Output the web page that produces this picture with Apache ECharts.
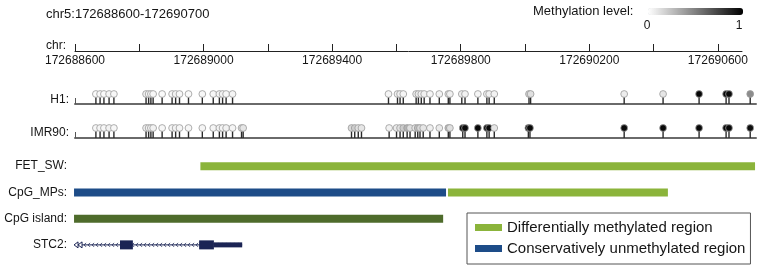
<!DOCTYPE html>
<html>
<head>
<meta charset="utf-8">
<script src="https://cdn.jsdelivr.net/npm/echarts@6/dist/echarts.min.js"></script>
<style>html,body{margin:0;padding:0;background:#fff;}#c{width:760px;height:268px;}</style>
</head>
<body>
<div id="c"></div>
<script>
// ---- data ----
const chrTicks = [172688600,172688800,172689000,172689200,172689400,172689600,172689800,172690000,172690200,172690400,172690600];
const chrLabels = [172688600,172689000,172689400,172689800,172690200,172690600];

const h1Pos = [172688665,172688678,172688690,172688706,172688721,
  172688821,172688829,172688836,172688843,172688871,
  172688902,172688913,172688925,172688953,172688996,
  172689030,172689049,172689059,172689070,172689090,
  172689575,172689603,172689611,172689621,
  172689661,172689668,172689677,172689686,172689704,172689733,
  172689761,172689766,172689803,172689813,172689853,172689881,172689888,172689904,
  172690012,172690017,172690308,172690429,172690541,172690625,172690634,172690700];
const h1Meth = [0.02,0.03,0.02,0.04,0.03,
  0.05,0.03,0.04,0.03,0.02,
  0.03,0.05,0.03,0.02,0.03,
  0.03,0.04,0.05,0.03,0.04,
  0.04,0.05,0.06,0.04,
  0.06,0.08,0.05,0.06,0.04,0.05,
  0.08,0.06,0.07,0.05,0.04,0.05,0.06,0.05,
  0.15,0.12,0.07,0.1,0.98,0.97,0.96,0.45];

const imrPos = [172688665,172688678,172688690,172688706,172688721,
  172688821,172688829,172688836,172688843,172688871,
  172688902,172688913,172688925,172688953,172688996,
  172689030,172689049,172689059,172689070,172689090,
  172689118,172689123,
  172689460,172689470,172689481,172689491,
  172689577,172689600,172689611,172689621,172689633,172689642,
  172689658,172689666,172689673,172689683,172689704,172689733,172689761,172689766,
  172689806,172689813,172689853,172689881,172689888,172689904,
  172690010,172690015,172690308,172690429,172690541,172690625,172690634,172690700];
const imrMeth = [0.03,0.04,0.03,0.05,0.03,
  0.06,0.05,0.04,0.05,0.03,
  0.04,0.05,0.04,0.03,0.04,
  0.04,0.05,0.04,0.05,0.04,
  0.12,0.1,
  0.15,0.2,0.12,0.1,
  0.05,0.08,0.12,0.2,0.3,0.12,
  0.1,0.25,0.15,0.1,0.06,0.08,0.25,0.12,
  0.97,0.96,0.97,0.96,0.97,0.1,
  0.96,0.97,0.96,0.97,0.97,0.96,0.97,0.95];

const regionTracks = ['FET_SW','CpG_MPs','CpG island','STC2'];
const dmrTrack = ['FET_SW','CpG_MPs'];
const dmrStart = [172688990,172689760];
const dmrEnd   = [172690715,172690444];
const curTrack = ['CpG_MPs'];
const curStart = [172688597];
const curEnd   = [172689754];
const islandTrack = ['CpG island'];
const islandStart = [172688597];
const islandEnd   = [172689745];

const geneKinds = ['intron','exon','exon','utr'];
const geneStart = [172688597,172688740,172688986,172689032];
const geneEnd   = [172689120,172688780,172689032,172689120];

// ---- build ----
const FONT = '"Liberation Sans", Arial, sans-serif';
const TXT = '#151515';
const GREEN = '#8bb43b', BLUE = '#1d4c88', DKGREEN = '#4e6b2b', NAVY = '#1b2454';
const xMin = 172688600, chrMax = 172690675, trackMax = 172690718;

function lolli(params, api) {
  const x = api.value(0);
  const p0 = api.coord([x, 0]);
  const p1 = api.coord([x, 1]);
  return {type:'group', children:[
    {type:'line', shape:{x1:p0[0], y1:p0[1], x2:p1[0], y2:p1[1]+2}, style:{stroke:'#2b2b2b', lineWidth:1.4}},
    {type:'circle', shape:{cx:p1[0], cy:p1[1], r:3.4}, style:{fill: api.visual('color'), stroke:'#9a9a9a', lineWidth:0.8}}
  ]};
}
function regionRender(color, h) {
  return function(params, api) {
    const s = api.coord([api.value(0), api.value(2)]);
    const e = api.coord([api.value(1), api.value(2)]);
    return {type:'rect', shape:{x:s[0], y:s[1]-h/2, width:e[0]-s[0], height:h}, style:{fill:color}};
  };
}
function geneRender(params, api) {
  const s = api.coord([api.value(0), api.value(2)]);
  const e = api.coord([api.value(1), api.value(2)]);
  const y = s[1];
  const kind = geneKinds[params.dataIndex];
  if (kind === 'intron') {
    const ch = [{type:'line', shape:{x1:s[0]+2, y1:y, x2:e[0], y2:y}, style:{stroke:NAVY, lineWidth:1}}];
    for (let x = s[0] + 10; x < e[0] - 3; x += 4) {
      ch.push({type:'polyline', shape:{points:[[x+2,y-2],[x,y],[x+2,y+2]]}, style:{stroke:NAVY, lineWidth:0.8, fill:null}});
    }
    ch.push({type:'polygon', shape:{points:[[s[0],y],[s[0]+4,y-3],[s[0]+4,y+3]]}, style:{stroke:NAVY, fill:'#fff', lineWidth:1}});
    ch.push({type:'polygon', shape:{points:[[s[0]+4,y],[s[0]+8,y-3],[s[0]+8,y+3]]}, style:{stroke:NAVY, fill:'#fff', lineWidth:1}});
    return {type:'group', children:ch};
  }
  const h = kind === 'exon' ? 9 : 5;
  return {type:'rect', shape:{x:s[0], y:y-h/2, width:e[0]-s[0], height:h}, style:{fill:NAVY}};
}

const option = {
  animation: false,
  backgroundColor: '#fff',
  textStyle: {fontFamily: FONT},
  grid: [
    {left:75, top:40, width:667, height:11},
    {left:75, top:94, width:681, height:10},
    {left:75, top:128, width:681, height:10},
    {left:75, top:153, width:681, height:105}
  ],
  xAxis: [
    {gridIndex:0, type:'value', min:xMin, max:chrMax,
      axisLine:{lineStyle:{color:'#222', width:1}},
      axisTick:{inside:true, length:7, customValues: chrTicks, lineStyle:{color:'#222', width:1}},
      axisLabel:{customValues: chrLabels, margin:4, fontSize:12, color:TXT, fontFamily:FONT, formatter: v => String(v)},
      splitLine:{show:false}},
    {gridIndex:1, type:'value', min:xMin, max:trackMax,
      axisLine:{lineStyle:{color:'#6a6a6a', width:2}},
      axisTick:{inside:true, length:6, customValues:[xMin], lineStyle:{color:'#555', width:1}},
      axisLabel:{show:false}, splitLine:{show:false}},
    {gridIndex:2, type:'value', min:xMin, max:trackMax,
      axisLine:{lineStyle:{color:'#6a6a6a', width:2}},
      axisTick:{inside:true, length:6, customValues:[xMin], lineStyle:{color:'#555', width:1}},
      axisLabel:{show:false}, splitLine:{show:false}},
    {gridIndex:3, type:'value', min:xMin, max:trackMax, show:false}
  ],
  yAxis: [
    {gridIndex:0, type:'value', min:0, max:1, axisLine:{show:false}, axisTick:{show:false}, splitLine:{show:false},
      axisLabel:{customValues:[0.45], formatter:()=> 'chr:', margin:9, fontSize:12, color:TXT, fontFamily:FONT}},
    {gridIndex:1, type:'value', min:0, max:1, axisLine:{show:false}, axisTick:{show:false}, splitLine:{show:false},
      axisLabel:{customValues:[0.4], formatter:()=> 'H1:', margin:6, fontSize:12, color:TXT, fontFamily:FONT}},
    {gridIndex:2, type:'value', min:0, max:1, axisLine:{show:false}, axisTick:{show:false}, splitLine:{show:false},
      axisLabel:{customValues:[0.5], formatter:()=> 'IMR90:', margin:6, fontSize:12, color:TXT, fontFamily:FONT}},
    {gridIndex:3, type:'category', data: regionTracks, inverse:true, axisLine:{show:false}, axisTick:{show:false}, splitLine:{show:false},
      axisLabel:{formatter: v => v + ':', margin:8, fontSize:12, color:TXT, fontFamily:FONT}}
  ],
  visualMap: {
    type:'continuous', min:0, max:1, dimension:1, seriesIndex:[0,1],
    orient:'horizontal', left:648, top:8, padding:0, itemWidth:7, itemHeight:95,
    calculable:false, text:null, showLabel:false,
    inRange:{color:['#ffffff','#000000']}
  },
  legend: {
    data:['Differentially methylated region','Conservatively unmethylated region'],
    orient:'vertical', left:467, top:213, padding:[7,5,8,8], itemGap:6,
    itemWidth:27, itemHeight:7, icon:'rect', selectedMode:false,
    borderColor:'#555', borderWidth:1,
    textStyle:{fontSize:15, color:TXT, fontFamily:FONT}
  },
  graphic: [
    {type:'text', left:46, top:8, style:{text:'chr5:172688600-172690700', font:'13px ' + FONT, fill:TXT}},
    {type:'text', left:533, top:5, style:{text:'Methylation level:', font:'13px ' + FONT, fill:TXT}},
    {type:'text', x:647, y:26, style:{text:'0', font:'12px ' + FONT, fill:TXT, textAlign:'center', textVerticalAlign:'middle'}},
    {type:'text', x:739, y:26, style:{text:'1', font:'12px ' + FONT, fill:TXT, textAlign:'center', textVerticalAlign:'middle'}}
  ],
  series: [
    {name:'H1', type:'custom', xAxisIndex:1, yAxisIndex:1, renderItem: lolli,
      encode:{x:0, y:-1}, data: h1Pos.map((p,i)=>[p, h1Meth[i]]), z:5},
    {name:'IMR90', type:'custom', xAxisIndex:2, yAxisIndex:2, renderItem: lolli,
      encode:{x:0, y:-1}, data: imrPos.map((p,i)=>[p, imrMeth[i]]), z:5},
    {name:'Differentially methylated region', type:'custom', xAxisIndex:3, yAxisIndex:3,
      itemStyle:{color:GREEN}, renderItem: regionRender(GREEN, 8),
      encode:{x:[0,1], y:2}, data: dmrStart.map((s,i)=>[s, dmrEnd[i], dmrTrack[i]])},
    {name:'Conservatively unmethylated region', type:'custom', xAxisIndex:3, yAxisIndex:3,
      itemStyle:{color:BLUE}, renderItem: regionRender(BLUE, 8),
      encode:{x:[0,1], y:2}, data: curStart.map((s,i)=>[s, curEnd[i], curTrack[i]])},
    {name:'CpG island', type:'custom', xAxisIndex:3, yAxisIndex:3,
      itemStyle:{color:DKGREEN}, renderItem: regionRender(DKGREEN, 8),
      encode:{x:[0,1], y:2}, data: islandStart.map((s,i)=>[s, islandEnd[i], islandTrack[i]])},
    {name:'STC2', type:'custom', xAxisIndex:3, yAxisIndex:3,
      itemStyle:{color:NAVY}, renderItem: geneRender,
      encode:{x:[0,1], y:2}, data: geneStart.map((s,i)=>[s, geneEnd[i], 'STC2'])}
  ]
};
const chart = echarts.init(document.getElementById('c'), null, {renderer:'canvas'});
chart.setOption(option);
</script>
</body>
</html>
